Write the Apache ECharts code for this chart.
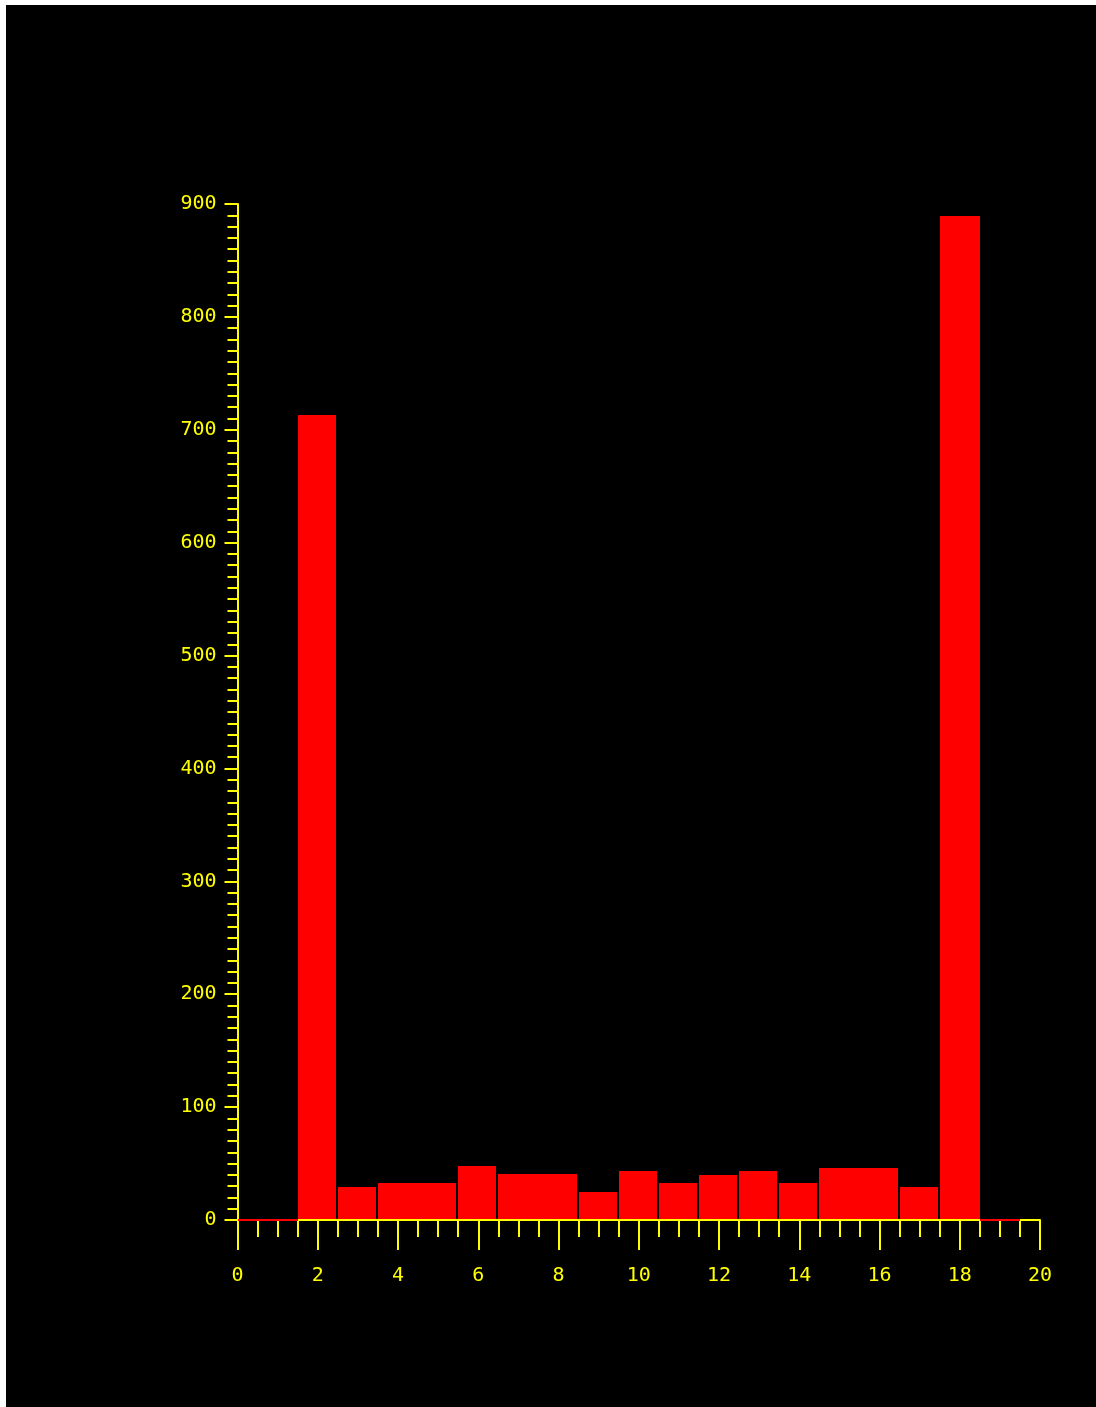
<!DOCTYPE html>
<html>
<head>
<meta charset="utf-8">
<title>Histogram</title>
<script src="https://cdn.jsdelivr.net/npm/echarts@6/dist/echarts.min.js"></script>
<style>
  html, body { margin: 0; padding: 0; background: #ffffff; }
  #chart { position: absolute; left: 6px; top: 5px; width: 1090px; height: 1402px; background: #000000; }
</style>
</head>
<body>
<div id="chart"></div>
<script>
// Histogram bins (centred on integers) and their counts
const binCenters = [0, 1, 2, 3, 4, 5, 6, 7, 8, 9, 10, 11, 12, 13, 14, 15, 16, 17, 18, 19];
const counts     = [0, 0, 713, 29, 33, 33, 48, 41, 41, 25, 43, 33, 40, 43, 33, 46, 46, 29, 889, 0];

const xTicks = { min: 0, max: 20, interval: 2 };
const yTicks = { min: 0, max: 900, interval: 100 };

const AXIS_COLOR = '#ffff00';
const BAR_COLOR = '#ff0000';
const FONT = 'DejaVu Sans Mono';

const chart = echarts.init(document.getElementById('chart'), null, { renderer: 'canvas' });

function renderBin(params, api) {
  const i = params.dataIndex;
  const cx = api.value(0);
  const v = api.value(1);
  const cs = params.coordSys;
  const left = api.coord([cx - 0.5, v]);
  const right = api.coord([cx + 0.5, 0]);
  // snap edges to whole pixels so touching bars leave no seam
  const x0 = Math.round(Math.max(left[0], cs.x));
  const x1 = Math.round(Math.min(right[0], cs.x + cs.width));
  const yTop = Math.round(left[1]);
  const yBase = Math.round(right[1]);
  if (v === 0) {
    // empty bins show as a red stroke along the baseline
    return {
      type: 'rect',
      shape: { x: x0, y: yBase - 1, width: x1 - x0, height: 2 },
      style: { fill: BAR_COLOR }
    };
  }
  // a thin black gap separates a bar from a taller/shorter neighbour;
  // neighbours of equal height run together as one block
  const next = counts[i + 1];
  const gap = (next === v || !next) ? 0 : 2;
  return {
    type: 'rect',
    shape: { x: x0, y: yTop, width: x1 - x0 - gap, height: yBase - 1 - yTop },
    style: { fill: BAR_COLOR }
  };
}

chart.setOption({
  backgroundColor: '#000000',
  animation: false,
  grid: { left: 231.5, top: 199, right: 56, bottom: 187, containLabel: false },
  xAxis: {
    type: 'value',
    min: xTicks.min, max: xTicks.max, interval: xTicks.interval,
    axisLine: { show: true, onZero: false, lineStyle: { color: AXIS_COLOR, width: 2 } },
    axisTick: { show: true, inside: false, length: 30, lineStyle: { color: AXIS_COLOR, width: 2 } },
    minorTick: { show: true, splitNumber: 4, length: 17, lineStyle: { color: AXIS_COLOR, width: 2 } },
    axisLabel: { color: AXIS_COLOR, fontFamily: FONT, fontSize: 20, margin: 46 },
    splitLine: { show: false },
    minorSplitLine: { show: false }
  },
  yAxis: {
    type: 'value',
    min: yTicks.min, max: yTicks.max, interval: yTicks.interval,
    axisLine: { show: true, lineStyle: { color: AXIS_COLOR, width: 2 } },
    axisTick: { show: true, inside: false, length: 13, lineStyle: { color: AXIS_COLOR, width: 2 } },
    minorTick: { show: true, splitNumber: 10, length: 10, lineStyle: { color: AXIS_COLOR, width: 2 } },
    axisLabel: { color: AXIS_COLOR, fontFamily: FONT, fontSize: 20, margin: 21, padding: [3, 0, 0, 0] },
    splitLine: { show: false },
    minorSplitLine: { show: false }
  },
  series: [{
    type: 'custom',
    renderItem: renderBin,
    clip: false,
    z: 10,
    data: binCenters.map((c, i) => [c, counts[i]])
  }]
});
</script>
</body>
</html>
